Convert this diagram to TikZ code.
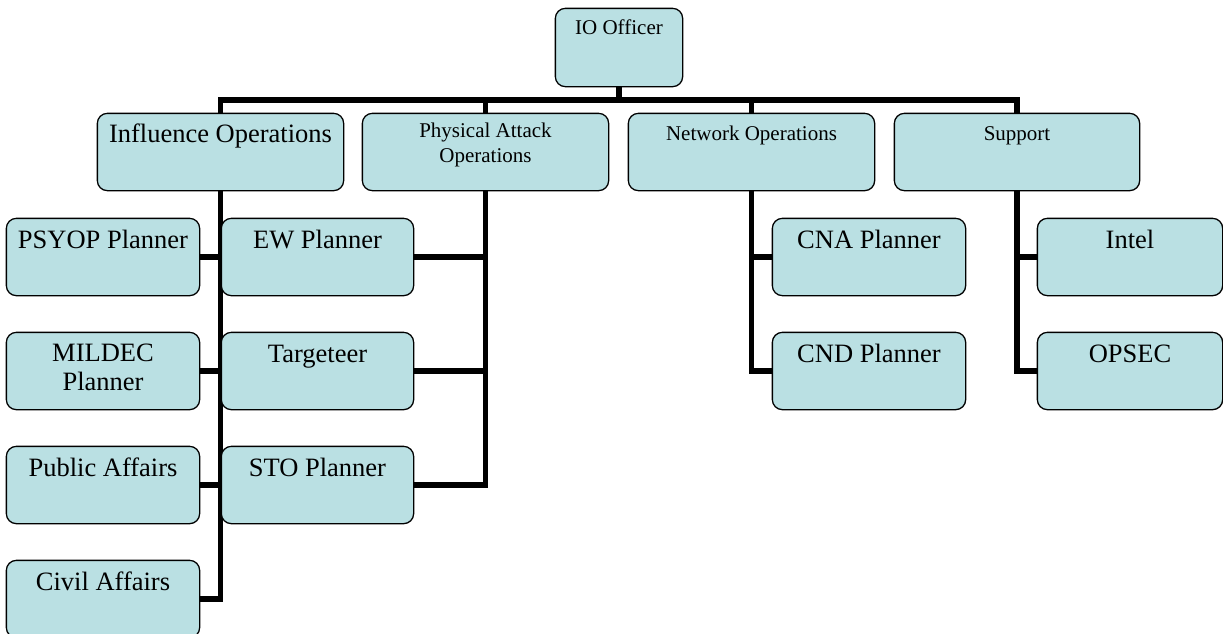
\documentclass[tikz,border=0pt]{standalone}
\usepackage{fontspec}
\setmainfont{Liberation Serif}
\definecolor{boxfill}{RGB}{186,224,227}
\begin{document}
\begin{tikzpicture}[x=1pt,y=-1pt,
  bx/.style={draw=black, line width=1.3pt, fill=boxfill, rounded corners=10pt, inner sep=0pt},
  conn/.style={draw=black, line width=5.5pt, line join=miter, line cap=butt},
  big/.style={anchor=base, align=center, font=\fontsize{26.5}{29}\selectfont, inner sep=0pt},
  small/.style={anchor=base, align=center, font=\fontsize{21}{25}\selectfont, inner sep=0pt}]
\useasboundingbox (0,0) rectangle (1223,633);
% box geometry (nodes)
\node[bx, minimum width=126pt, minimum height=77pt] (io) at (619,47.5) {};
\node[bx, minimum width=245pt, minimum height=76pt] (infl) at (220.5,152) {};
\node[bx, minimum width=245pt, minimum height=76pt] (phys) at (485.5,152) {};
\node[bx, minimum width=245pt, minimum height=76pt] (netw) at (751.5,152) {};
\node[bx, minimum width=244pt, minimum height=76pt] (supp) at (1017,152) {};
\node[bx, minimum width=192pt, minimum height=76pt] (psyop) at (103,257) {};
\node[bx, minimum width=192pt, minimum height=76pt] (mildec) at (103,371) {};
\node[bx, minimum width=192pt, minimum height=76pt] (pa) at (103,485) {};
\node[bx, minimum width=192pt, minimum height=76pt] (ca) at (103,599) {};
\node[bx, minimum width=191pt, minimum height=76pt] (ew) at (317.5,257) {};
\node[bx, minimum width=191pt, minimum height=76pt] (tgt) at (317.5,371) {};
\node[bx, minimum width=191pt, minimum height=76pt] (sto) at (317.5,485) {};
\node[bx, minimum width=192pt, minimum height=76pt] (cna) at (869,257) {};
\node[bx, minimum width=192pt, minimum height=76pt] (cnd) at (869,371) {};
\node[bx, minimum width=184pt, minimum height=76pt] (intel) at (1130,257) {};
\node[bx, minimum width=184pt, minimum height=76pt] (opsec) at (1130,371) {};
\coordinate (bar) at (619,100);
% connectors
\draw[conn] (io.south) -- (io.south |- bar);
\draw[conn] (infl.north) -- (infl.north |- bar) -- (supp.north |- bar) -- (supp.north);
\draw[conn] (phys.north) -- (phys.north |- bar);
\draw[conn] (netw.north) -- (netw.north |- bar);
\draw[conn] (infl.south) |- (ca.east);
\draw[conn] (psyop.east) -- (psyop.east -| infl.south);
\draw[conn] (mildec.east) -- (mildec.east -| infl.south);
\draw[conn] (pa.east) -- (pa.east -| infl.south);
\draw[conn] (phys.south) |- (sto.east);
\draw[conn] (ew.east) -- (ew.east -| phys.south);
\draw[conn] (tgt.east) -- (tgt.east -| phys.south);
\draw[conn] (netw.south) |- (cnd.west);
\draw[conn] (cna.west) -- (cna.west -| netw.south);
\draw[conn] (supp.south) |- (opsec.west);
\draw[conn] (intel.west) -- (intel.west -| supp.south);
% redraw boxes over connector ends
\foreach \n in {io,infl,phys,netw,supp,psyop,mildec,pa,ca,ew,tgt,sto,cna,cnd,intel,opsec}{
  \draw[bx] (\n.south west) rectangle (\n.north east);
}
% labels
\node[small] (io-t) at ([yshift=-26pt]io.north) {IO Officer};
\node[big] (infl-t) at ([yshift=-29pt]infl.north) {Influence Operations};
\node[small] (phys-t) at ([yshift=-49pt]phys.north) {Physical Attack\\Operations};
\node[small] (netw-t) at ([yshift=-27pt]netw.north) {Network Operations};
\node[small] (supp-t) at ([yshift=-27pt]supp.north) {Support};
\node[big] (psyop-t) at ([yshift=-30pt]psyop.north) {PSYOP Planner};
\node[big] (mildec-t) at ([yshift=-58pt]mildec.north) {MILDEC\\Planner};
\node[big] (pa-t) at ([yshift=-30pt]pa.north) {Public Affairs};
\node[big] (ca-t) at ([yshift=-30pt]ca.north) {Civil Affairs};
\node[big] (ew-t) at ([yshift=-30pt]ew.north) {EW Planner};
\node[big] (tgt-t) at ([yshift=-30pt]tgt.north) {Targeteer};
\node[big] (sto-t) at ([yshift=-30pt]sto.north) {STO Planner};
\node[big] (cna-t) at ([yshift=-30pt]cna.north) {CNA Planner};
\node[big] (cnd-t) at ([yshift=-30pt]cnd.north) {CND Planner};
\node[big] (intel-t) at ([yshift=-30pt]intel.north) {Intel};
\node[big] (opsec-t) at ([yshift=-30pt]opsec.north) {OPSEC};
\end{tikzpicture}
\end{document}
